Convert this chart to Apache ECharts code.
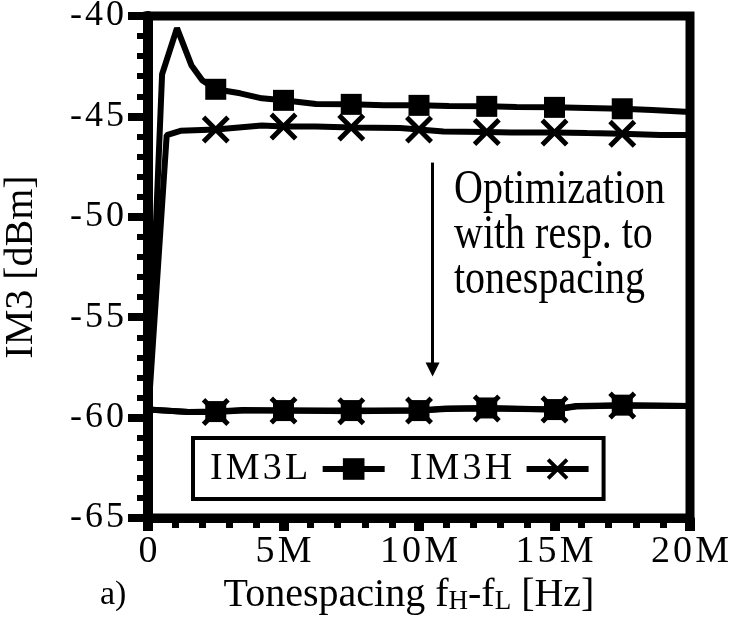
<!DOCTYPE html>
<html>
<head>
<meta charset="utf-8">
<script src="https://cdn.jsdelivr.net/npm/echarts@6/dist/echarts.min.js"></script>
<style>
html,body{margin:0;padding:0;background:#fff;}
#chart{width:742px;height:620px;}
</style>
</head>
<body>
<div id="chart"></div>
<script>
// ---- data (x in MHz, y in dBm) ----
const markerX = [2.5, 5, 7.5, 10, 12.5, 15, 17.5];

const im3lBeforeX = [0, 0.52, 1.07, 1.6, 2.0, 2.5, 3.4, 4.2, 5, 6.2, 7.5, 8.7, 10, 11.1, 12.5, 13.6, 15, 16.2, 17.5, 18.6, 20];
const im3lBeforeY = [-60, -42.9, -40.6, -42.45, -43.2, -43.65, -43.85, -44.1, -44.2, -44.38, -44.4, -44.45, -44.45, -44.48, -44.5, -44.53, -44.55, -44.58, -44.62, -44.68, -44.78];

const im3hBeforeX = [0, 0.69, 1.2, 2.5, 4.2, 5, 6.2, 7.5, 9.3, 10, 10.9, 12.5, 13.4, 15, 16.2, 17.5, 18.9, 20];
const im3hBeforeY = [-60, -45.93, -45.72, -45.65, -45.45, -45.5, -45.5, -45.55, -45.58, -45.65, -45.75, -45.78, -45.8, -45.8, -45.83, -45.86, -45.93, -45.93];

const im3lAfterX = [0, 1.5, 2.5, 3.5, 5, 7.5, 10, 11, 12.5, 15, 15.8, 17.5, 20];
const im3lAfterY = [-59.6, -59.72, -59.7, -59.62, -59.65, -59.65, -59.65, -59.55, -59.52, -59.6, -59.42, -59.38, -59.42];

const im3hAfterX = [0, 1.5, 2.5, 3.5, 5, 7.5, 10, 11, 12.5, 15, 15.8, 17.5, 20];
const im3hAfterY = [-59.6, -59.72, -59.72, -59.65, -59.65, -59.68, -59.65, -59.57, -59.55, -59.6, -59.45, -59.4, -59.42];

const seriesNames = ['IM3L', 'IM3H'];
const xTickValues = [0, 5, 10, 15, 20];
const xTickLabels = ['0', '5M', '10M', '15M', '20M'];
const yTickValues = [-65, -60, -55, -50, -45, -40];
const yTickLabels = ['-65', '-60', '-55', '-50', '-45', '-40'];

const arrowX = 10.5, arrowFrom = -47.3, arrowTo = -57.6;
const noteText = 'Optimization\nwith resp. to\ntonespacing';
const xTitleParts = ['Tonespacing f', 'H', '-f', 'L', ' [Hz]'];
const yTitle = 'IM3 [dBm]';
const panelLabel = 'a)';

// ---- helpers ----
const FONT = '"Liberation Serif", "Times New Roman", serif';
const HS = '\u200A';
const spaced = s => s.split('').join(HS);
const X_PATH = 'path://M3,0L12,9L21,0L24,3L15,12L24,21L21,24L12,15L3,24L0,21L9,12L0,3Z';

function buildData(xs, ys) {
  return xs.map((x, i) => {
    const item = { value: [x, ys[i]] };
    if (!markerX.includes(x)) item.symbol = 'none';
    return item;
  });
}

function lineSeries(name, xs, ys, symbol, size, z) {
  return {
    name: name,
    type: 'line',
    data: buildData(xs, ys),
    symbol: symbol,
    symbolSize: size,
    showAllSymbol: true,
    smooth: false,
    z: z,
    lineStyle: { color: '#000', width: 6 },
    itemStyle: { color: '#000' },
    emphasis: { disabled: true }
  };
}

const series = [
  lineSeries(seriesNames[0], im3lBeforeX, im3lBeforeY, 'rect', 21, 3),
  lineSeries(seriesNames[1], im3hBeforeX, im3hBeforeY, X_PATH, 28, 3),
  lineSeries(seriesNames[0], im3lAfterX, im3lAfterY, 'rect', 21, 3),
  lineSeries(seriesNames[1], im3hAfterX, im3hAfterY, X_PATH, 28, 4)
];
series[0].markLine = {
  silent: true,
  animation: false,
  symbol: ['none', 'triangle'],
  symbolSize: [14, 14],
  label: { show: false },
  lineStyle: { color: '#000', width: 3, type: 'solid' },
  data: [[{ coord: [arrowX, arrowFrom] }, { coord: [arrowX, arrowTo] }]]
};

const chart = echarts.init(document.getElementById('chart'), null, { renderer: 'canvas' });
const option = {
  animation: false,
  backgroundColor: '#fff',
  grid: {
    left: 148, top: 16, right: 52, bottom: 102,
    containLabel: false,
    outerBoundsMode: 'none',
    show: true, borderColor: '#000', borderWidth: 9, backgroundColor: 'transparent'
  },
  xAxis: {
    type: 'value', min: 0, max: 20, interval: 5,
    name: '{n|' + xTitleParts[0] + '}{s|' + xTitleParts[1] + '}{n|' + xTitleParts[2] + '}{s|' + xTitleParts[3] + '}{n|' + xTitleParts[4] + '}',
    nameLocation: 'middle',
    nameGap: 46,
    nameTextStyle: {
      fontFamily: FONT, fontSize: 40, color: '#000',
      padding: [0, 20, 0, 0],
      rich: {
        n: { fontFamily: FONT, fontSize: 40, color: '#000', lineHeight: 48, verticalAlign: 'bottom' },
        s: { fontFamily: FONT, fontSize: 27, color: '#000', lineHeight: 20, verticalAlign: 'bottom' }
      }
    },
    axisLine: { show: true, lineStyle: { color: '#000', width: 9 } },
    axisTick: { show: true, length: 13, lineStyle: { color: '#000', width: 10 } },
    minorTick: { show: true, splitNumber: 5, length: 10, lineStyle: { color: '#000', width: 7 } },
    splitLine: { show: false },
    axisLabel: {
      margin: 15, fontFamily: FONT, fontSize: 38, color: '#000',
      formatter: v => spaced(xTickLabels[xTickValues.indexOf(v)] || String(v))
    }
  },
  yAxis: {
    type: 'value', min: -65, max: -40, interval: 5,
    name: yTitle,
    nameLocation: 'middle',
    nameRotate: 90,
    nameGap: 107,
    nameTextStyle: { fontFamily: FONT, fontSize: 40, color: '#000' },
    axisLine: { show: true, lineStyle: { color: '#000', width: 10 } },
    axisTick: { show: true, length: 20, lineStyle: { color: '#000', width: 8 } },
    minorTick: { show: true, splitNumber: 5, length: 11, lineStyle: { color: '#000', width: 6 } },
    splitLine: { show: false },
    axisLabel: {
      margin: 24, fontFamily: FONT, fontSize: 36, color: '#000',
      formatter: v => spaced(yTickLabels[yTickValues.indexOf(v)] || String(v))
    }
  },
  legend: {
    data: seriesNames,
    left: 193, top: 438,
    orient: 'horizontal',
    align: 'right',
    backgroundColor: '#fff',
    borderColor: '#000', borderWidth: 4,
    padding: [12, 12, 11, 17],
    itemGap: 22,
    itemWidth: 62, itemHeight: 27,
    selectedMode: false,
    lineStyle: { width: 6, color: '#000' },
    itemStyle: { color: '#000' },
    formatter: n => spaced(n) + ' ',
    textStyle: { fontFamily: FONT, fontSize: 38, color: '#000' }
  },
  graphic: [
    {
      type: 'text', x: 454, y: 168, scaleX: 1, scaleY: 1.2, z: 10,
      style: { text: noteText, font: '40px ' + FONT, fill: '#000', lineHeight: 37.5, align: 'left', verticalAlign: 'top' }
    },
    {
      type: 'text', x: 100, y: 578, z: 10,
      style: { text: panelLabel, font: '34px ' + FONT, fill: '#000', align: 'left', verticalAlign: 'top' }
    }
  ],
  series: series
};
chart.setOption(option);
</script>
</body>
</html>
